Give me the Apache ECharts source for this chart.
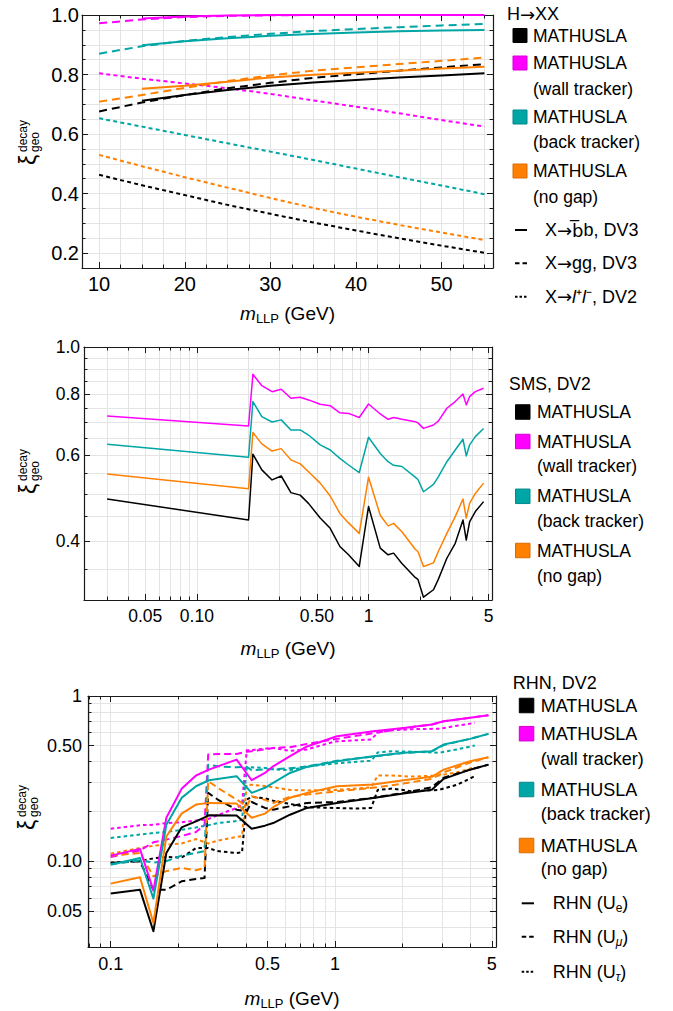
<!DOCTYPE html>
<html>
<head>
<meta charset="utf-8">
<script src="https://cdn.jsdelivr.net/npm/echarts@6.0.0/dist/echarts.min.js"></script>
<style>html,body{margin:0;padding:0;background:#fff;}#chart{width:673px;height:1011px;}</style>
</head>
<body>
<div id="chart"></div>
<script>
// ================= DATA =================
// ---- Panel 1: H -> XX (linear axes) ----
const hxxMass   = [10, 15, 20, 25, 30, 35, 40, 45, 50, 55];
const hxxMassBB = [15, 20, 25, 30, 35, 40, 45, 50, 55];
// X -> bb, DV3 (solid)
const hxx_bb_mathusla = [0.712, 0.731, 0.748, 0.762, 0.773, 0.782, 0.790, 0.797, 0.804];
const hxx_bb_wall     = [0.988, 0.995, 0.998, 1.0, 1.0, 1.0, 1.0, 1.0, 1.0];
const hxx_bb_back     = [0.898, 0.912, 0.922, 0.930, 0.936, 0.941, 0.945, 0.948, 0.950];
const hxx_bb_nogap    = [0.752, 0.762, 0.776, 0.790, 0.799, 0.806, 0.813, 0.820, 0.826];
// X -> gg, DV3 (dashed)
const hxx_gg_mathusla = [0.676, 0.706, 0.731, 0.754, 0.772, 0.789, 0.801, 0.813, 0.824, 0.835];
const hxx_gg_wall     = [0.972, 0.985, 0.993, 0.997, 0.999, 1.0, 1.0, 1.0, 1.0, 1.0];
const hxx_gg_back     = [0.870, 0.895, 0.913, 0.926, 0.937, 0.946, 0.953, 0.959, 0.965, 0.970];
const hxx_gg_nogap    = [0.709, 0.731, 0.755, 0.778, 0.797, 0.813, 0.824, 0.835, 0.846, 0.857];
// X -> l+l-, DV2 (dotted)
const hxx_ll_mathusla = [0.463, 0.428, 0.395, 0.362, 0.332, 0.303, 0.276, 0.250, 0.225, 0.201];
const hxx_ll_wall     = [0.804, 0.786, 0.770, 0.754, 0.735, 0.713, 0.692, 0.670, 0.647, 0.625];
const hxx_ll_back     = [0.653, 0.625, 0.597, 0.569, 0.541, 0.513, 0.484, 0.455, 0.427, 0.398];
const hxx_ll_nogap    = [0.530, 0.492, 0.455, 0.420, 0.385, 0.352, 0.322, 0.295, 0.269, 0.244];

// ---- Panel 2: SMS, DV2 (log-log) ----
const smsMass = [0.03, 0.2, 0.212, 0.239, 0.274, 0.310, 0.353, 0.400, 0.447, 0.523, 0.598, 0.681, 0.765, 0.883, 1.0,
                 1.17, 1.30, 1.40, 1.565, 1.87, 1.94, 2.09, 2.39, 2.55, 2.86, 3.20, 3.55, 3.71, 3.88, 4.19, 4.68];
const sms_wall     = [0.722, 0.689, 0.879, 0.833, 0.810, 0.819, 0.785, 0.789, 0.779, 0.763, 0.758, 0.733, 0.731, 0.717, 0.764,
                      0.729, 0.711, 0.717, 0.711, 0.703, 0.699, 0.681, 0.692, 0.705, 0.749, 0.773, 0.801, 0.761, 0.791, 0.810, 0.823];
const sms_back     = [0.632, 0.594, 0.773, 0.720, 0.702, 0.709, 0.676, 0.676, 0.660, 0.630, 0.615, 0.591, 0.573, 0.553, 0.653,
                      0.605, 0.582, 0.572, 0.569, 0.541, 0.535, 0.505, 0.523, 0.542, 0.582, 0.615, 0.647, 0.598, 0.630, 0.655, 0.681];
const sms_nogap    = [0.549, 0.512, 0.668, 0.633, 0.612, 0.619, 0.587, 0.576, 0.555, 0.526, 0.495, 0.456, 0.436, 0.415, 0.541,
                      0.452, 0.430, 0.435, 0.418, 0.385, 0.381, 0.355, 0.361, 0.381, 0.415, 0.449, 0.488, 0.446, 0.478, 0.501, 0.526];
const sms_mathusla = [0.488, 0.442, 0.603, 0.560, 0.534, 0.544, 0.503, 0.497, 0.478, 0.446, 0.425, 0.390, 0.375, 0.355, 0.471,
                      0.387, 0.375, 0.378, 0.360, 0.337, 0.334, 0.307, 0.318, 0.334, 0.369, 0.396, 0.442, 0.402, 0.438, 0.460, 0.482];

// ---- Panel 3: RHN, DV2 (log-log) ----
const rhnMassE = [0.1, 0.135, 0.155, 0.177, 0.207, 0.24, 0.274, 0.364, 0.425, 0.487, 0.53, 0.63, 0.75, 1.02, 1.48, 2.02, 2.7, 3.05, 4.0, 4.83];
const rhnE_mathusla = [0.0636, 0.0672, 0.0376, 0.112, 0.160, 0.174, 0.1895, 0.189, 0.157, 0.164, 0.170, 0.191, 0.210, 0.225, 0.2415, 0.2566, 0.271, 0.315, 0.358, 0.384];
const rhnE_wall     = [0.108, 0.1186, 0.0663, 0.183, 0.274, 0.330, 0.358, 0.412, 0.309, 0.342, 0.375, 0.432, 0.495, 0.571, 0.612, 0.641, 0.672, 0.703, 0.738, 0.765];
const rhnE_back     = [0.0952, 0.1045, 0.0593, 0.166, 0.2415, 0.284, 0.309, 0.327, 0.259, 0.278, 0.298, 0.342, 0.372, 0.403, 0.432, 0.453, 0.463, 0.508, 0.550, 0.590];
const rhnE_nogap    = [0.0731, 0.0798, 0.0422, 0.141, 0.194, 0.220, 0.2253, 0.223, 0.183, 0.194, 0.212, 0.242, 0.259, 0.284, 0.291, 0.309, 0.324, 0.358, 0.403, 0.426];

const rhnMassMu = [0.1, 0.135, 0.155, 0.177, 0.207, 0.24, 0.262, 0.272, 0.30, 0.364, 0.404, 0.425, 0.487, 0.53, 0.63, 0.75, 1.02, 1.48, 2.02, 2.7, 3.05, 4.0, 4.83];
const rhnMu_mathusla = [0.0975, 0.0997, 0.067, 0.067, 0.0755, 0.078, 0.079, 0.259, 0.236, 0.205, 0.200, 0.228, 0.210, 0.205, 0.215, 0.225, 0.228, 0.242, 0.259, 0.280, 0.320, 0.358, 0.384];
const rhnMu_wall     = [0.106, 0.116, 0.130, 0.135, 0.142, 0.150, 0.166, 0.442, 0.445, 0.445, 0.460, 0.463, 0.475, 0.485, 0.490, 0.513, 0.550, 0.595, 0.638, 0.672, 0.703, 0.738, 0.765];
const rhnMu_back     = [0.096, 0.101, 0.098, 0.100, 0.108, 0.112, 0.115, 0.384, 0.375, 0.370, 0.372, 0.355, 0.360, 0.360, 0.365, 0.375, 0.405, 0.430, 0.452, 0.462, 0.505, 0.550, 0.590];
const rhnMu_nogap    = [0.108, 0.112, 0.081, 0.087, 0.091, 0.088, 0.091, 0.305, 0.278, 0.236, 0.215, 0.247, 0.235, 0.225, 0.245, 0.253, 0.265, 0.278, 0.295, 0.315, 0.345, 0.395, 0.426];

const rhnMassTau = [0.1, 0.135, 0.155, 0.177, 0.207, 0.24, 0.272, 0.30, 0.364, 0.385, 0.404, 0.425, 0.487, 0.53, 0.63, 0.75, 1.0, 1.25, 1.45, 1.55, 1.8, 2.2, 2.9, 3.5, 4.2];
const rhnTau_mathusla = [0.098, 0.100, 0.104, 0.106, 0.105, 0.120, 0.120, 0.115, 0.112, 0.113, 0.236, 0.245, 0.240, 0.232, 0.222, 0.212, 0.210, 0.208, 0.210, 0.270, 0.275, 0.265, 0.270, 0.290, 0.327];
const rhnTau_wall     = [0.157, 0.165, 0.166, 0.170, 0.172, 0.176, 0.180, 0.190, 0.210, 0.220, 0.470, 0.470, 0.480, 0.485, 0.465, 0.475, 0.530, 0.540, 0.545, 0.600, 0.620, 0.630, 0.633, 0.660, 0.688];
const rhnTau_back     = [0.138, 0.145, 0.148, 0.150, 0.155, 0.160, 0.165, 0.170, 0.175, 0.178, 0.365, 0.370, 0.367, 0.360, 0.355, 0.375, 0.390, 0.400, 0.405, 0.455, 0.463, 0.460, 0.453, 0.475, 0.501];
const rhnTau_nogap    = [0.111, 0.120, 0.124, 0.126, 0.128, 0.136, 0.128, 0.133, 0.140, 0.142, 0.290, 0.290, 0.285, 0.280, 0.270, 0.268, 0.270, 0.275, 0.280, 0.330, 0.330, 0.325, 0.330, 0.345, 0.370];

// ---- Ticks / labels ----
const p1XTicks = [10, 20, 30, 40, 50];
const p1XTickLabels = ['10', '20', '30', '40', '50'];
const p1XGrid = [10, 12.5, 15, 17.5, 20, 22.5, 25, 27.5, 30, 32.5, 35, 37.5, 40, 42.5, 45, 47.5, 50, 52.5, 55];
const p1YTicks = [0.2, 0.4, 0.6, 0.8, 1.0];
const p1YTickLabels = ['0.2', '0.4', '0.6', '0.8', '1.0'];
const p1YGrid = [0.2, 0.25, 0.3, 0.35, 0.4, 0.45, 0.5, 0.55, 0.6, 0.65, 0.7, 0.75, 0.8, 0.85, 0.9, 0.95];

const p2XTicks = [0.05, 0.1, 0.5, 1, 5];
const p2XTickLabels = ['0.05', '0.10', '0.50', '1', '5'];
const p2XGrid = [0.03, 0.04, 0.05, 0.06, 0.07, 0.08, 0.09, 0.1, 0.2, 0.3, 0.4, 0.5, 0.6, 0.7, 0.8, 0.9, 1, 2, 3, 4, 5];
const p2YTicks = [0.4, 0.6, 0.8, 1.0];
const p2YTickLabels = ['0.4', '0.6', '0.8', '1.0'];
const p2YGrid = [0.35, 0.4, 0.45, 0.5, 0.55, 0.6, 0.65, 0.7, 0.75, 0.8, 0.85, 0.9, 0.95];

const p3XTicks = [0.1, 0.5, 1, 5];
const p3XTickLabels = ['0.1', '0.5', '1', '5'];
const p3XGrid = [0.08, 0.09, 0.1, 0.2, 0.3, 0.4, 0.5, 0.6, 0.7, 0.8, 0.9, 1, 2, 3, 4, 5];
const p3YTicks = [0.05, 0.1, 0.5, 1];
const p3YTickLabels = ['0.05', '0.10', '0.50', '1'];
const p3YGrid = [0.04, 0.05, 0.06, 0.07, 0.08, 0.09, 0.1, 0.2, 0.3, 0.4, 0.5, 0.6, 0.7, 0.8, 0.9];

const detectorNames = ['MATHUSLA', 'MATHUSLA', 'MATHUSLA', 'MATHUSLA'];
const detectorSubNames = ['', '(wall tracker)', '(back tracker)', '(no gap)'];

// ================= STYLE =================
const FONT = '"Liberation Sans", Arial, Helvetica, sans-serif';
const AFONT = '"DejaVu Sans", sans-serif';
const FRAME = '#1a1a1a';
const COLORS = ['#000000', '#ff00ff', '#00a6a6', '#ff8000'];
const BORDERS = ['#000000', '#d400d4', '#008a8a', '#d96c00'];
const lin = v => v;
const lg = v => Math.log10(v);

const chart = echarts.init(document.getElementById('chart'), null, {renderer: 'svg', width: 673, height: 1011});

const grids = [
  {left: 82, top: 15, width: 411, height: 253},
  {left: 84, top: 347, width: 408, height: 253},
  {left: 88, top: 696, width: 408, height: 251}
];

const panelAxes = [
  {tf: lin, fs: 20, xMargin: 6, yMargin: 3,
   x: {min: 8, max: 56, ticks: p1XTicks, labels: p1XTickLabels, grid: p1XGrid},
   y: {min: 0.15, max: 1.0, ticks: p1YTicks, labels: p1YTickLabels, grid: p1YGrid}},
  {tf: lg, fs: 17.5, xMargin: 7, yMargin: 4,
   x: {min: 0.022, max: 5.24, ticks: p2XTicks, labels: p2XTickLabels, grid: p2XGrid},
   y: {min: 0.303, max: 1.0, ticks: p2YTicks, labels: p2YTickLabels, grid: p2YGrid}},
  {tf: lg, fs: 18, xMargin: 8, yMargin: 6,
   x: {min: 0.0792, max: 5.22, ticks: p3XTicks, labels: p3XTickLabels, grid: p3XGrid},
   y: {min: 0.0302, max: 1.0, ticks: p3YTicks, labels: p3YTickLabels, grid: p3YGrid}}
];

function buildAxes(gi, pa, dim) {
  const c = pa[dim];
  const tf = pa.tf;
  const mainPos = dim === 'x' ? 'bottom' : 'left';
  const mirPos = dim === 'x' ? 'top' : 'right';
  const majorVals = c.ticks.map(tf);
  const minorVals = c.grid.map(tf);
  const fmt = v => {
    for (let i = 0; i < majorVals.length; i++) if (Math.abs(majorVals[i] - v) < 1e-6) return c.labels[i];
    return '';
  };
  const base = {gridIndex: gi, type: 'value', min: tf(c.min), max: tf(c.max), silent: true, name: ''};
  const lineOn = {show: true, onZero: false, lineStyle: {color: FRAME, width: 1.2}};
  const lineOff = {show: false, onZero: false};
  return [
    Object.assign({}, base, {position: mainPos, axisLine: lineOn,
      axisTick: {show: true, inside: true, length: 6, customValues: majorVals, lineStyle: {color: FRAME, width: 1}},
      axisLabel: {show: true, customValues: majorVals, formatter: fmt, fontSize: pa.fs, fontFamily: FONT, color: '#000',
                  margin: dim === 'x' ? pa.xMargin : pa.yMargin},
      splitLine: {show: true, lineStyle: {color: '#d6d6d6', width: 1}}}),
    Object.assign({}, base, {position: mainPos, axisLine: lineOff,
      axisTick: {show: true, inside: true, length: 3.5, customValues: minorVals, lineStyle: {color: FRAME, width: 1}},
      axisLabel: {show: false}, splitLine: {show: true, lineStyle: {color: '#e4e4e4', width: 1}}}),
    Object.assign({}, base, {position: mirPos, axisLine: lineOn,
      axisTick: {show: true, inside: true, length: 6, customValues: majorVals, lineStyle: {color: FRAME, width: 1}},
      axisLabel: {show: false}, splitLine: {show: false}}),
    Object.assign({}, base, {position: mirPos, axisLine: lineOff,
      axisTick: {show: true, inside: true, length: 3.5, customValues: minorVals, lineStyle: {color: FRAME, width: 1}},
      axisLabel: {show: false}, splitLine: {show: false}})
  ];
}

const xAxes = [], yAxes = [];
panelAxes.forEach((pa, gi) => { xAxes.push(...buildAxes(gi, pa, 'x')); yAxes.push(...buildAxes(gi, pa, 'y')); });

const series = [];
function addLine(panel, xs, ys, colorIdx, dash, width) {
  const tf = panelAxes[panel].tf;
  series.push({
    type: 'line', xAxisIndex: panel * 4, yAxisIndex: panel * 4,
    data: xs.map((x, i) => [tf(x), tf(ys[i])]),
    showSymbol: false, symbol: 'none', silent: true, animation: false, z: 3,
    lineStyle: {color: COLORS[colorIdx], width: width, type: dash, cap: 'butt', join: 'round'}
  });
}
const DASH1 = [8, 5], DOT1 = [4, 3.2];
const DASH3 = [7, 4], DOT3 = [3.5, 3];
// Panel 1
[hxx_ll_mathusla, hxx_ll_wall, hxx_ll_back, hxx_ll_nogap].forEach((ys, i) => addLine(0, hxxMass, ys, i, DOT1, 2));
[hxx_gg_mathusla, hxx_gg_wall, hxx_gg_back, hxx_gg_nogap].forEach((ys, i) => addLine(0, hxxMass, ys, i, DASH1, 2));
[hxx_bb_mathusla, hxx_bb_wall, hxx_bb_back, hxx_bb_nogap].forEach((ys, i) => addLine(0, hxxMassBB, ys, i, 'solid', 2));
// Panel 2
[sms_mathusla, sms_wall, sms_back, sms_nogap].forEach((ys, i) => addLine(1, smsMass, ys, i, 'solid', 1.5));
// Panel 3
[rhnTau_mathusla, rhnTau_wall, rhnTau_back, rhnTau_nogap].forEach((ys, i) => addLine(2, rhnMassTau, ys, i, DOT3, 2));
[rhnMu_mathusla, rhnMu_wall, rhnMu_back, rhnMu_nogap].forEach((ys, i) => addLine(2, rhnMassMu, ys, i, DASH3, 2));
[rhnE_mathusla, rhnE_wall, rhnE_back, rhnE_nogap].forEach((ys, i) => addLine(2, rhnMassE, ys, i, 'solid', 2));

// ================= GRAPHICS (titles, legends) =================
const G = [];
function baseStyle(extra) {
  return Object.assign({fill: '#000', fontFamily: FONT,
    align: 'left', verticalAlign: 'middle', textAlign: 'left', textVerticalAlign: 'middle'}, extra || {});
}
function txt(x, y, text, size) {
  G.push({type: 'text', x: x, y: y, silent: true, z: 10, style: baseStyle({text: text, fontSize: size})});
}
function richTxt(x, y, text, size, rich, extra) {
  G.push({type: 'text', x: x, y: y, silent: true, z: 10,
    style: baseStyle(Object.assign({text: text, fontSize: size, rich: rich}, extra || {}))});
}
function square(x, yc, s, ci) {
  G.push({type: 'rect', silent: true, z: 10, shape: {x: x, y: yc - s / 2, width: s, height: s},
    style: {fill: COLORS[ci], stroke: BORDERS[ci], lineWidth: 1}});
}
function sample(x1, x2, y, dash) {
  G.push({type: 'line', silent: true, z: 10, shape: {x1: x1, y1: y, x2: x2, y2: y},
    style: {stroke: '#000', lineWidth: 2, lineDash: dash}});
}
function detectorLegend(sqX, sqS, txtX, rowsY, subY, fs) {
  for (let i = 0; i < 4; i++) {
    square(sqX, rowsY[i], sqS, i);
    txt(txtX, rowsY[i], detectorNames[i], fs);
    if (detectorSubNames[i]) txt(txtX, subY[i - 1], detectorSubNames[i], fs);
  }
}
const subRich = {
  it: {fontStyle: 'italic', fontSize: 19, fontFamily: FONT, lineHeight: 24},
  sub: {fontSize: 13, fontFamily: FONT, verticalAlign: 'bottom', lineHeight: 14},
  n: {fontSize: 19, fontFamily: FONT, lineHeight: 24}
};
function xTitle(cx, cy) {
  richTxt(cx, cy, '{it|m}{sub|LLP}{n| (GeV)}', 19, subRich,
    {align: 'center', textAlign: 'center'});
}
function yTitle(cx, cy) {
  const st = (t, fs) => baseStyle({text: t, fontSize: fs});
  G.push({type: 'group', x: cx, y: cy + 20, rotation: Math.PI / 2, silent: true, z: 10, children: [
    {type: 'text', x: 0, y: 0, style: st('ξ', 23)},
    {type: 'text', x: 13, y: -5.5, style: st('decay', 12)},
    {type: 'text', x: 13, y: 6.5, style: st('geo', 12)}
  ]});
}
const legRich = fs => ({
  n: {fontSize: fs, fontFamily: FONT},
  a: {fontSize: fs, fontFamily: AFONT},
  i: {fontSize: fs, fontFamily: FONT, fontStyle: 'italic'},
  o: {fontSize: fs, fontFamily: AFONT}
});

// Panel 1 annotations
xTitle(287.5, 313);
yTitle(28, 145);
richTxt(507, 14, '{n|H}{a|→}{n|XX}', 18, legRich(18));
detectorLegend(513, 14, 533, [35.5, 63, 117, 171], [89, 142, 196.5], 17.5);
sample(515, 527, 230, null); sample(515, 527, 263.3, [4.5, 3]); sample(515, 527, 296.7, [2.5, 2]);
richTxt(545, 230, '{n|X}{a|→}{o|b\u0305}{n|b, DV3}', 18, legRich(18));
richTxt(545, 263.3, '{n|X}{a|→}{n|gg, DV3}', 18, legRich(18));
richTxt(545, 296.7, '{n|X}{a|→}{i|l}{n|⁺}{i|l}{n|⁻, DV2}', 18, legRich(18));

// Panel 2 annotations
xTitle(288, 648);
yTitle(28, 474);
txt(509, 384, 'SMS, DV2', 17.5);
detectorLegend(515.5, 14.5, 537, [412, 441.5, 496.3, 550.5], [466, 520.7, 576], 17.5);

// Panel 3 annotations
xTitle(292, 998);
yTitle(27, 810);
txt(512.7, 682.7, 'RHN, DV2', 18);
detectorLegend(519.3, 14.5, 540.7, [705.5, 733.7, 789.5, 845.5], [759.3, 814, 869.3], 18);
sample(521.7, 534, 903.3, null); sample(521.7, 534, 936.7, [4.5, 3]); sample(521.7, 534, 971.7, [2.5, 2]);
const rhnRich = {
  n: {fontSize: 18, fontFamily: FONT, lineHeight: 22},
  s: {fontSize: 12, fontFamily: FONT, verticalAlign: 'bottom', lineHeight: 13},
  si: {fontSize: 12, fontFamily: FONT, fontStyle: 'italic', verticalAlign: 'bottom', lineHeight: 13}
};
[['{n|RHN (U}{s|e}{n|)}', 903.3], ['{n|RHN (U}{si|μ}{n|)}', 936.7], ['{n|RHN (U}{si|τ}{n|)}', 971.7]].forEach(r => {
  richTxt(552.7, r[1], r[0], 18, rhnRich);
});

chart.setOption({
  animation: false,
  backgroundColor: '#ffffff',
  grid: grids.map(g => Object.assign({containLabel: false}, g)),
  xAxis: xAxes,
  yAxis: yAxes,
  series: series,
  graphic: {elements: G}
});
</script>
</body>
</html>
